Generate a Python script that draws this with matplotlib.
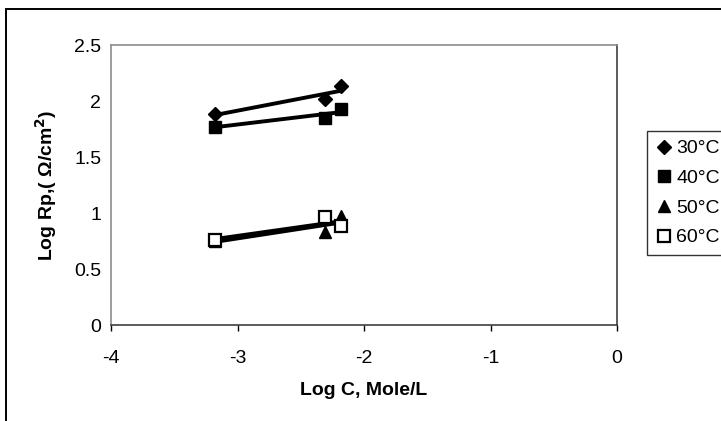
import numpy as np
import matplotlib
matplotlib.use("Agg")
import matplotlib.pyplot as plt
from matplotlib.lines import Line2D
from matplotlib.patches import Rectangle

plt.rcParams['font.family'] = ['Liberation Sans', 'DejaVu Sans']

# log C values (Mole/L)
log_c = [-3.18, -2.31, -2.18]

# log Rp values for each temperature
rp_30 = [1.88, 2.02, 2.13]
rp_40 = [1.77, 1.85, 1.93]
rp_50 = [0.75, 0.83, 0.97]
rp_60 = [0.76, 0.96, 0.88]

labels = ['30°C', '40°C', '50°C', '60°C']
x_ticks = [-4, -3, -2, -1, 0]
y_ticks = [0, 0.5, 1, 1.5, 2, 2.5]

fs = 14

fig = plt.figure(figsize=(7.21, 4.21), dpi=100)
ax = fig.add_axes([111 / 721, 96 / 421, 506 / 721, 280 / 421])

series = [rp_30, rp_40, rp_50, rp_60]
markers = [
    dict(marker='D', ms=7, mfc='black', mec='black'),
    dict(marker='s', ms=8, mfc='black', mec='black'),
    dict(marker='^', ms=9, mfc='black', mec='black'),
    dict(marker='s', ms=8, mfc='white', mec='black', mew=1.6),
]

x = np.array(log_c)
handles = []
for y, m, lab in zip(series, markers, labels):
    # linear trend line over the data range
    k, b = np.polyfit(x, y, 1)
    xl = np.array([x.min(), x.max()])
    ax.plot(xl, k * xl + b, color='black', lw=2.8, zorder=2)
    ax.plot(x, y, linestyle='none', zorder=3, **m)
    handles.append(Line2D([], [], linestyle='none', label=lab, **m))

ax.set_xlim(-4, 0)
ax.set_ylim(0, 2.5)
ax.set_xticks(x_ticks)
ax.set_yticks(y_ticks)
ax.set_xticklabels([str(t) for t in x_ticks], fontsize=fs)
ax.set_yticklabels(['0', '0.5', '1', '1.5', '2', '2.5'], fontsize=fs)
ax.tick_params(axis='x', direction='out', length=4, width=1, pad=14)
ax.tick_params(axis='y', length=0, pad=7)

ax.spines['left'].set_color('#8c8c8c')
ax.spines['top'].set_color('#8c8c8c')
ax.spines['right'].set_color('#404040')
ax.spines['bottom'].set_color('#404040')
for s in ax.spines.values():
    s.set_linewidth(1.2)

ax.set_xlabel('Log C, Mole/L', fontsize=fs, fontweight='bold', labelpad=11)
ax.set_ylabel('Log Rp,( \u03a9/cm$^{\\mathbf{2}}$)', fontsize=fs, fontweight='bold', labelpad=11)

leg = fig.legend(handles=handles, loc='upper left', bbox_to_anchor=(647 / 721, 290 / 421),
                 frameon=True, fancybox=False, fontsize=fs, handlelength=0.8,
                 handletextpad=0.25, labelspacing=0.62, borderpad=0.45, borderaxespad=0)
leg.get_frame().set_edgecolor('black')
leg.get_frame().set_linewidth(1.0)

# outer chart border
fig.patches.append(Rectangle((6 / 721, -0.1), 1.2, (421 - 9) / 421 + 0.1,
                             transform=fig.transFigure, fill=False,
                             edgecolor='black', lw=1.4))

fig.savefig('out.png', dpi=100)
